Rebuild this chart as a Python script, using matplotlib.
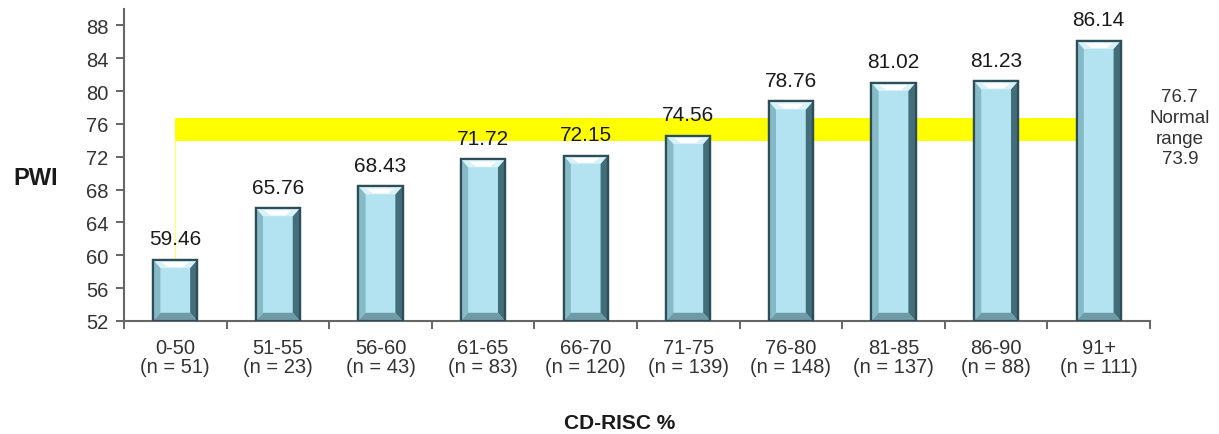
import matplotlib
matplotlib.use('Agg')
import matplotlib.pyplot as plt
from matplotlib.patches import Polygon
import numpy as np

plt.rcParams['font.family'] = ['Liberation Sans', 'DejaVu Sans']

# data
groups = ['0-50', '51-55', '56-60', '61-65', '66-70', '71-75', '76-80', '81-85', '86-90', '91+']
counts = [51, 23, 43, 83, 120, 139, 148, 137, 88, 111]
pwi = [59.46, 65.76, 68.43, 71.72, 72.15, 74.56, 78.76, 81.02, 81.23, 86.14]
normal_low = 73.9
normal_high = 76.7

ymin, ymax = 52, 90
bar_w = 0.43

fig = plt.figure(figsize=(12.19, 4.35), dpi=100)
ax = fig.add_axes([0.1017, 0.2598, 0.8417, 0.7172])

x = np.arange(len(groups))

# normal range band, behind the bars
ax.fill_between([x[0], x[-1]], normal_low, normal_high, color='#ffff00', lw=0, zorder=1)
ax.plot([x[0], x[0]], [pwi[0], normal_low], color='#ffff66', lw=0.8, zorder=1)

bars = ax.bar(x, [v - ymin for v in pwi], bottom=ymin, width=bar_w,
              color='#b3e3f0', edgecolor='#2d4e58', linewidth=1.6, zorder=3)

# bevel look on each bar
bx = 0.07
by = 1.0
for xi, v in zip(x, pwi):
    x0, x1 = xi - bar_w / 2, xi + bar_w / 2
    y0, y1 = ymin, v
    faces = [
        ([(x0, y0), (x0 + bx, y0 + by), (x0 + bx, y1 - by), (x0, y1)], '#86bac7'),
        ([(x1, y0), (x1 - bx, y0 + by), (x1 - bx, y1 - by), (x1, y1)], '#426d79'),
        ([(x0, y1), (x0 + bx, y1 - by), (x1 - bx, y1 - by), (x1, y1)], '#d9f1f8'),
        ([(x0, y0), (x0 + bx, y0 + by), (x1 - bx, y0 + by), (x1, y0)], '#6f9ba7'),
    ]
    for pts, c in faces:
        ax.add_patch(Polygon(pts, closed=True, facecolor=c, edgecolor='none', zorder=4))
    # small highlight in the top bevel
    ax.add_patch(Polygon([(xi - bar_w / 3.2, y1 - by * 0.3), (xi + bar_w / 3.2, y1 - by * 0.3),
                          (xi + bar_w / 6, y1 - by * 0.9), (xi - bar_w / 6, y1 - by * 0.9)],
                         closed=True, facecolor='white', edgecolor='none', zorder=4))
    ax.add_patch(Polygon([(x0, y0), (x1, y0), (x1, y1), (x0, y1)], closed=True,
                         facecolor='none', edgecolor='#2d4e58', lw=1.6, zorder=5))

    ax.text(xi, v + 1.4, f'{v:.2f}', ha='center', va='bottom', fontsize=15,
            color='#1a1a1a', zorder=6)

ax.text(9.79, 75.55, f'{normal_high}\nNormal\nrange\n{normal_low}', ha='center', va='center',
        fontsize=13.5, color='#333333', linespacing=1.3, clip_on=False)

ax.set_xlim(-0.5, len(groups) - 0.5)
ax.set_ylim(ymin, ymax)
ax.set_yticks(np.arange(52, 89, 4))
ax.set_xticks(x)
ax.set_xticklabels([f'{g}\n(n = {n})' for g, n in zip(groups, counts)],
                   fontsize=14.5, color='#333333', linespacing=1.05)
ax.set_xticks(np.arange(-0.5, len(groups)), minor=True)
ax.tick_params(axis='x', which='major', length=0, pad=12)
ax.tick_params(axis='x', which='minor', length=6, width=1.4, color='#666666', direction='out')
ax.tick_params(axis='y', length=6, width=1.4, color='#666666', labelsize=14.5,
               labelcolor='#333333', pad=5)

for s in ['top', 'right']:
    ax.spines[s].set_visible(False)
for s in ['left', 'bottom']:
    ax.spines[s].set_color('#666666')
    ax.spines[s].set_linewidth(1.5)

fig.text(0.029, 0.59, 'PWI', fontsize=17, fontweight='bold', color='#1a1a1a',
         ha='center', va='center')
fig.text(0.508, 0.027, 'CD-RISC %', fontsize=15, fontweight='bold', color='#1a1a1a',
         ha='center', va='center')

fig.savefig('out.png', dpi=100)
